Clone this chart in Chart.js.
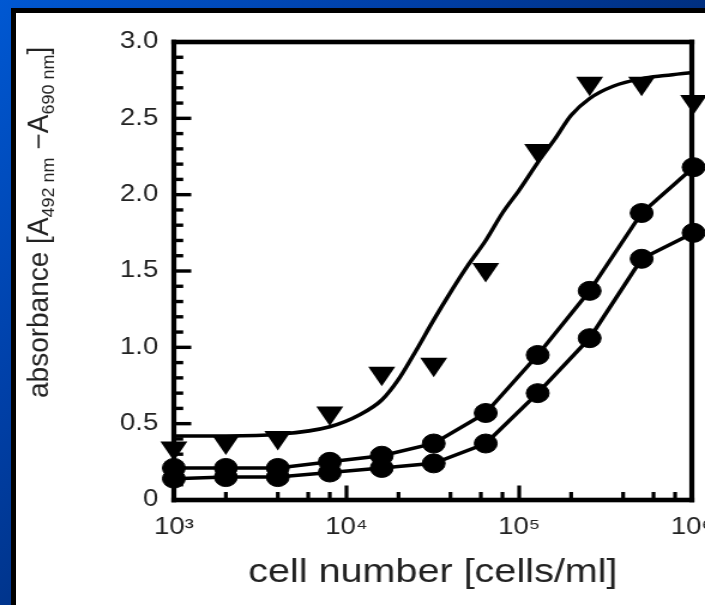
<!DOCTYPE html>
<html>
<head>
<meta charset="utf-8">
<script src="https://cdn.jsdelivr.net/npm/chart.js@4.4.1/dist/chart.umd.min.js"></script>
<style>
    html, body { margin: 0; padding: 0; }
    body {
        width: 705px; height: 605px; overflow: hidden; position: relative;
        background: linear-gradient(135deg, #0058d2 0%, #0040a8 30%, #00286e 65%, #001c4e 100%);
    }
    #painel {
        position: absolute; left: 11px; top: 8px; right: 0; bottom: 0;
        background: #fff; border-left: 5px solid #000; border-top: 5px solid #000;
    }
    /* a figura original foi esticada na horizontal, por isso o canvas tambem */
    #grafico-wrap {
        position: absolute; left: 0; top: 0; width: 588px; height: 605px;
        transform: scaleX(1.199); transform-origin: 0 0;
    }
</style>
</head>
<body>
<div id="painel"></div>
<div id="grafico-wrap"><canvas id="absorbanceChart"></canvas></div>

<script>
// Dados (diluicao seriada 1:2)
const cellCounts = [1000, 2000, 4000, 8000, 16000, 32000, 64000, 128000, 256000, 512000, 1024000];
const triangleValues = [0.34, 0.38, 0.41, 0.57, 0.83, 0.89, 1.51, 2.29, 2.73, 2.73, 2.61];
const upperCircleValues = [0.21, 0.21, 0.21, 0.25, 0.29, 0.37, 0.57, 0.95, 1.37, 1.88, 2.18];
const lowerCircleValues = [0.14, 0.15, 0.15, 0.18, 0.21, 0.24, 0.37, 0.70, 1.06, 1.58, 1.75];

// Curva ajustada dos triangulos
const fitCellCounts = [1000, 2000, 4000, 8000, 12000, 16000, 20000, 25000, 32000, 40000, 50000,
    64000, 80000, 100000, 128000, 160000, 200000, 256000, 350000, 512000, 700000, 1000000];
const fitValues = [0.42, 0.42, 0.43, 0.48, 0.56, 0.655, 0.79, 0.97, 1.18, 1.36, 1.53,
    1.70, 1.88, 2.03, 2.21, 2.36, 2.52, 2.63, 2.71, 2.76, 2.78, 2.80];

// Eixos
const xTickValues = [1000, 10000, 100000, 1000000];
const xTickLabels = ['10³', '10⁴', '10⁵', '10⁶'];
const xMinorTicks = [2000, 4000, 6000, 8000, 20000, 40000, 60000, 80000, 200000, 400000, 600000, 800000];
const yTickValues = [0, 0.5, 1, 1.5, 2, 2.5, 3];
const yTickLabels = ['0', '0.5', '1.0', '1.5', '2.0', '2.5', '3.0'];
const yMinorTicks = [];
for (let i = 1; i < 30; i++) yMinorTicks.push(i / 10);

// Titulo do eixo y com subscritos
const yTitleParts = [
    { text: 'absorbance [A' },
    { text: '492 nm', sub: true },
    { text: ' \u2212A' },
    { text: '690 nm', sub: true },
    { text: ']' }
];

const STRETCH = 1.199;
const FONT = '"Liberation Sans", Arial, Helvetica, sans-serif';
Chart.defaults.font.family = FONT;

const toPoints = (xs, ys) => xs.map((v, i) => ({ x: v, y: ys[i] }));

// Moldura, marcas dos eixos (para dentro) e titulo do eixo y
const moldura = {
    id: 'moldura',
    afterDraw(chart) {
        const c = chart.ctx;
        const a = chart.chartArea;
        const xs = chart.scales.x;
        const ys = chart.scales.y;
        c.save();
        c.fillStyle = '#000';

        // marcas do eixo y
        yMinorTicks.forEach(v => {
            const py = ys.getPixelForValue(v);
            const major = yTickValues.some(t => Math.abs(t - v) < 1e-9);
            c.fillRect(a.left, py - 1.7, major ? 14.5 : 7.8, 3.4);
        });

        // marcas do eixo x
        xTickValues.concat(xMinorTicks).forEach(v => {
            const px = xs.getPixelForValue(v);
            const len = xTickValues.includes(v) ? 14.5 : 8;
            c.fillRect(px - 1.6, a.bottom - len, 3.2, len);
        });

        // moldura do grafico
        c.fillRect(a.left - 2.1, a.top - 2.3, 4.2, a.bottom - a.top + 4.6);
        c.fillRect(a.right - 2.1, a.top - 2.3, 4.2, a.bottom - a.top + 4.6);
        c.fillRect(a.left - 2.1, a.top - 2.3, a.right - a.left + 4.2, 4.6);
        c.fillRect(a.left - 2.1, a.bottom - 2.3, a.right - a.left + 4.2, 4.6);

        // titulo do eixo y (sem o esticamento horizontal)
        c.translate(40.4, 398);
        c.scale(1 / STRETCH, 1);
        c.rotate(-Math.PI / 2);
        c.fillStyle = '#222';
        c.textBaseline = 'alphabetic';
        let cx = 0;
        yTitleParts.forEach(p => {
            c.font = (p.sub ? '18px ' : '28px ') + FONT;
            c.fillText(p.text, cx, p.sub ? 6 : 0);
            cx += c.measureText(p.text).width;
        });
        c.restore();
    }
};

const ctx = document.getElementById('absorbanceChart').getContext('2d');
const absorbanceChart = new Chart(ctx, {
    type: 'line',
    data: {
        datasets: [
            {
                label: 'ajuste',
                data: toPoints(fitCellCounts, fitValues),
                borderColor: '#000',
                borderWidth: 3.5,
                pointRadius: 0,
                cubicInterpolationMode: 'monotone',
                fill: false,
                clip: false
            },
            {
                label: 'triangulos',
                data: toPoints(cellCounts, triangleValues),
                showLine: false,
                pointStyle: 'triangle',
                pointRotation: 180,
                pointRadius: 13,
                pointBackgroundColor: '#000',
                pointBorderColor: '#000',
                pointBorderWidth: 0,
                clip: false
            },
            {
                label: 'circulos 1',
                data: toPoints(cellCounts, upperCircleValues),
                borderColor: '#000',
                borderWidth: 3.5,
                tension: 0,
                pointRadius: 9.5,
                pointBackgroundColor: '#000',
                pointBorderColor: '#000',
                pointBorderWidth: 1,
                clip: false
            },
            {
                label: 'circulos 2',
                data: toPoints(cellCounts, lowerCircleValues),
                borderColor: '#000',
                borderWidth: 3.5,
                tension: 0,
                pointRadius: 9.5,
                pointBackgroundColor: '#000',
                pointBorderColor: '#000',
                pointBorderWidth: 1,
                clip: false
            }
        ]
    },
    options: {
        responsive: true,
        maintainAspectRatio: false,
        animation: false,
        layout: {
            autoPadding: false,
            padding: { top: 42, right: 11, left: 0, bottom: 0 }
        },
        plugins: {
            legend: { display: false },
            tooltip: { enabled: false }
        },
        scales: {
            x: {
                type: 'logarithmic',
                min: 1000,
                max: 1000000,
                grid: { display: false, drawTicks: false },
                border: { display: false },
                afterBuildTicks: scale => {
                    scale.ticks = xTickValues.map(v => ({ value: v }));
                },
                ticks: {
                    autoSkip: false,
                    maxRotation: 0,
                    padding: 14,
                    color: '#222',
                    font: { size: 23 },
                    callback: (value, index) => xTickLabels[index]
                },
                title: {
                    display: true,
                    text: 'cell number [cells/ml]',
                    color: '#222',
                    font: { size: 33 },
                    padding: { top: 0, bottom: 12 }
                },
                afterFit: scale => {
                    scale.height = 105;
                    scale.paddingLeft = 0;
                    scale.paddingRight = 0;
                }
            },
            y: {
                type: 'linear',
                min: 0,
                max: 3,
                grid: { display: false, drawTicks: false },
                border: { display: false },
                afterBuildTicks: scale => {
                    scale.ticks = yTickValues.map(v => ({ value: v }));
                },
                ticks: {
                    padding: 13,
                    color: '#222',
                    font: { size: 23 },
                    callback: (value, index) => yTickLabels[index]
                },
                afterFit: scale => {
                    scale.width = 145;
                }
            }
        }
    },
    plugins: [moldura]
});
</script>
</body>
</html>
